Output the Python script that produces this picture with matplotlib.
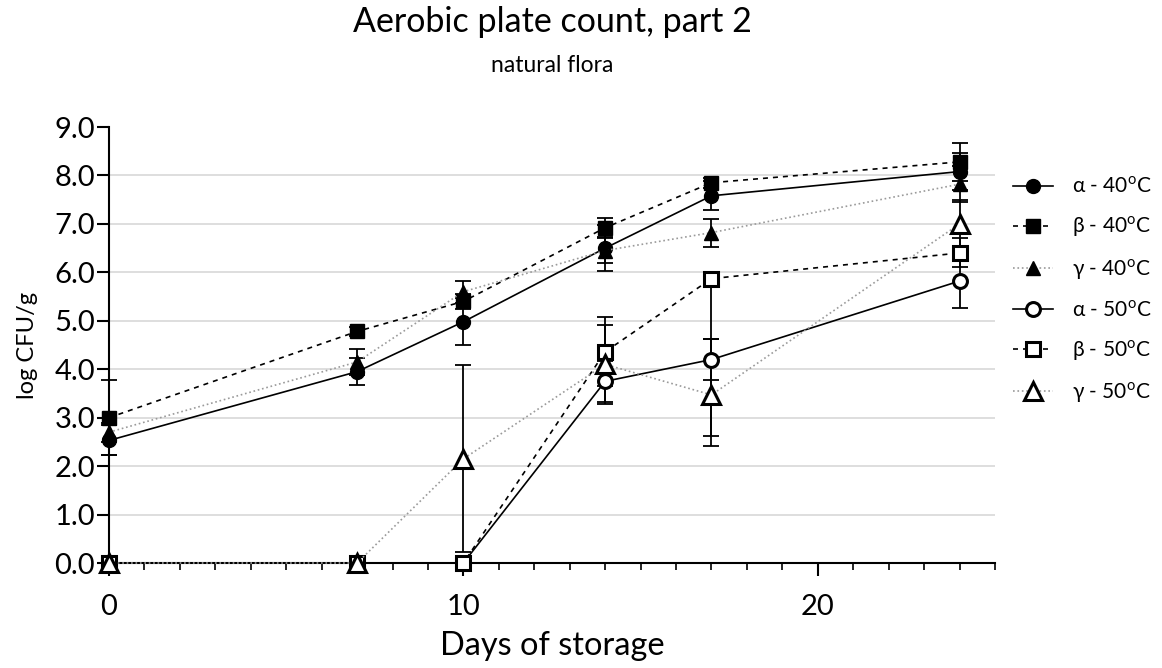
import matplotlib
matplotlib.use("Agg")
import matplotlib.pyplot as plt
from matplotlib.ticker import MultipleLocator, FixedLocator, FuncFormatter

plt.rcParams['font.family'] = ['Lato', 'DejaVu Sans']
plt.rcParams['mathtext.fontset'] = 'custom'
plt.rcParams['mathtext.rm'] = 'Lato'

days = [0, 7, 10, 14, 17, 24]

alpha40 = [2.53, 3.95, 4.98, 6.50, 7.58, 8.08]
beta40 = [3.00, 4.78, 5.40, 6.92, 7.85, 8.28]
gamma40 = [2.70, 4.15, 5.60, 6.45, 6.82, 7.82]
alpha50 = [0, 0, 0, 3.75, 4.20, 5.82]
beta50 = [0, 0, 0, 4.36, 5.87, 6.40]
gamma50 = [0, 0, 2.15, 4.10, 3.47, 7.00]

# error bars, below / above the mean
alpha40_lo = [0.31, 0.28, 0.48, 0.48, 0.30, 0.38]
alpha40_hi = [0.31, 0.28, 0.48, 0.48, 0.30, 0.38]
beta40_lo = [0.77, 0.10, 0.15, 0.20, 0.10, 0.40]
beta40_hi = [0.77, 0.10, 0.15, 0.20, 0.10, 0.40]
gamma40_lo = [0.20, 0.27, 0.23, 0.25, 0.29, 0.37]
gamma40_hi = [0.20, 0.27, 0.23, 0.25, 0.29, 0.37]
alpha50_lo = [0, 0, 0, 0.43, 0.43, 0.55]
alpha50_hi = [0, 0, 0, 0.43, 0.43, 0.55]
beta50_lo = [0, 0, 0, 0.71, 3.25, 0.30]
beta50_hi = [0, 0, 0, 0.71, 0.0, 0.30]
gamma50_lo = [0, 0, 1.93, 0.81, 1.05, 0.50]
gamma50_hi = [0, 0, 1.93, 0.81, 1.16, 0.50]

labels = ['α - 40$^{\\mathrm{o}}$C', 'β - 40$^{\\mathrm{o}}$C', 'γ - 40$^{\\mathrm{o}}$C',
          'α - 50$^{\\mathrm{o}}$C', 'β - 50$^{\\mathrm{o}}$C', 'γ - 50$^{\\mathrm{o}}$C']

series = [
    (alpha40, alpha40_lo, alpha40_hi, '-', 'black', 'o', True, 10),
    (beta40, beta40_lo, beta40_hi, (0, (3, 3)), 'black', 's', True, 10),
    (gamma40, gamma40_lo, gamma40_hi, ':', '#9a9a9a', '^', True, 10),
    (alpha50, alpha50_lo, alpha50_hi, '-', 'black', 'o', False, 10),
    (beta50, beta50_lo, beta50_hi, (0, (3, 3)), 'black', 's', False, 10),
    (gamma50, gamma50_lo, gamma50_hi, ':', '#9a9a9a', '^', False, 13),
]

fig = plt.figure(figsize=(11.62, 6.68), dpi=100)
ax = fig.add_axes([109 / 1162, 1 - 563 / 668, 886 / 1162, 436 / 668])

for y in range(1, 9):
    ax.axhline(y, color='#d4d4d4', lw=1.1, zorder=0)

handles = []
for (vals, lo, hi, ls, lc, mk, filled, ms), lab in zip(series, labels):
    # error bars only where there is some spread
    idx = [i for i in range(len(days)) if lo[i] > 0 or hi[i] > 0]
    if idx:
        ax.errorbar([days[i] for i in idx], [vals[i] for i in idx],
                    yerr=[[lo[i] for i in idx], [hi[i] for i in idx]],
                    fmt='none', ecolor='black', elinewidth=1.3, capsize=5.5,
                    capthick=1.3, zorder=2, clip_on=False)
    h, = ax.plot(days, vals, linestyle=ls, color=lc, lw=1.2, zorder=3,
                 marker=mk, markersize=ms,
                 markerfacecolor='black' if filled else 'white',
                 markeredgecolor='black', markeredgewidth=1.0 if filled else 2.2,
                 clip_on=False, label=lab)
    handles.append(h)

ax.set_xlim(0, 25)
ax.set_ylim(0, 9)
ax.xaxis.set_major_locator(FixedLocator([0, 10, 20]))
ax.xaxis.set_minor_locator(MultipleLocator(1))
ax.yaxis.set_major_locator(FixedLocator(range(10)))
ax.yaxis.set_major_formatter(FuncFormatter(lambda v, p: f'{v:.1f}'))

for s in ['top', 'right']:
    ax.spines[s].set_visible(False)
for s in ['left', 'bottom']:
    ax.spines[s].set_linewidth(1.5)
ax.tick_params(axis='y', which='major', length=9, width=1.5, pad=1, labelsize=21)
ax.tick_params(axis='x', which='major', length=9, width=1.5, pad=13, labelsize=21)
ax.tick_params(axis='x', which='minor', length=5, width=1.2)

ax.set_xlabel('Days of storage', fontsize=23.4, labelpad=8)
ax.set_ylabel('log CFU/g', fontsize=17, labelpad=12)

fig.text(552 / 1162, 1 - 22 / 668, 'Aerobic plate count, part 2', ha='center', va='center', fontsize=24.5)
fig.text(552 / 1162, 1 - 65 / 668, 'natural flora', ha='center', va='center', fontsize=16.5)

ax.legend(handles=handles, loc='upper left', bbox_to_anchor=(1005 / 1162, 1 - 168 / 668),
          bbox_transform=fig.transFigure, frameon=False, fontsize=15,
          handlelength=1.9, handletextpad=0.9, labelspacing=0.85, borderaxespad=0)

fig.savefig('out.png', dpi=100)
